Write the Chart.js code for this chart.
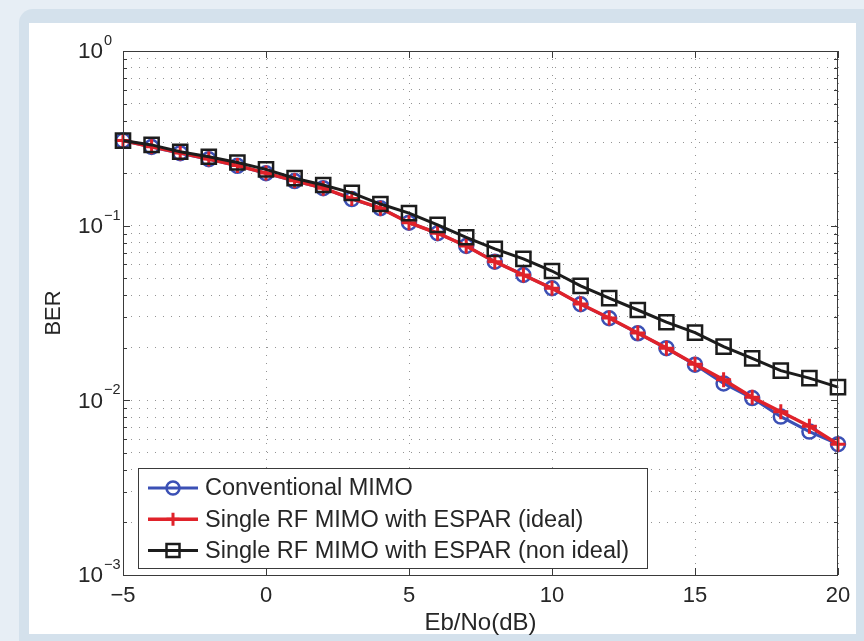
<!DOCTYPE html>
<html>
<head>
<meta charset="utf-8">
<script src="https://cdn.jsdelivr.net/npm/chart.js@4.4.1/dist/chart.umd.min.js"></script>
<style>
  html, body { margin: 0; padding: 0; background: #e7eef5; }
  body { width: 864px; height: 641px; position: relative; overflow: hidden; }
  .frame { position: absolute; left: 19px; top: 9px; width: 870px; height: 660px; background: #d4e1ec; border-radius: 14px 0 0 0; }
  .panel { position: absolute; left: 29px; top: 23px; width: 827px; height: 611px; background: #fff; }
  canvas { position: absolute; left: 0; top: 0; }
</style>
</head>
<body>
<div class="frame"></div>
<div class="panel"></div>
<canvas id="berChart" width="864" height="641"></canvas>
<script>
// Eb/No (dB) sample points
const ebNo = [-5, -4, -3, -2, -1, 0, 1, 2, 3, 4, 5, 6, 7, 8, 9, 10, 11, 12, 13, 14, 15, 16, 17, 18, 19, 20];

// BER readings
const berConventional = [0.307, 0.282, 0.260, 0.240, 0.220, 0.1995, 0.180, 0.164, 0.142, 0.126, 0.104, 0.0905, 0.0765,
  0.0622, 0.0522, 0.0438, 0.0355, 0.0295, 0.0242, 0.0199, 0.0160, 0.0125, 0.0103, 0.00807, 0.00662, 0.00561];
const berEsparIdeal = [0.307, 0.283, 0.261, 0.241, 0.221, 0.200, 0.181, 0.164, 0.143, 0.126, 0.104, 0.0905, 0.0765,
  0.0622, 0.0522, 0.0438, 0.0356, 0.0296, 0.0243, 0.0199, 0.0161, 0.0131, 0.0104, 0.0086, 0.0071, 0.0056];
const berEsparNonIdeal = [0.307, 0.290, 0.265, 0.248, 0.230, 0.210, 0.187, 0.171, 0.154, 0.133, 0.118, 0.101, 0.0858,
  0.0736, 0.0645, 0.055, 0.0452, 0.0385, 0.0329, 0.0280, 0.0244, 0.0203, 0.0174, 0.0148, 0.0134, 0.0119];

const seriesLabels = ['Conventional MIMO', 'Single RF MIMO with ESPAR (ideal)', 'Single RF MIMO with ESPAR (non ideal)'];

// axis ticks
const xTicks = [-5, 0, 5, 10, 15, 20];
const yDecades = [1, 0.1, 0.01, 0.001];
const yExponents = ['0', '\u22121', '\u22122', '\u22123'];

const FONT = "'Liberation Sans', Arial, Helvetica, sans-serif";
const TEXT = '#262626';
const AXIS = '#3a3a3a';
const GRID = 'rgba(0,0,0,0.42)';

function isDecade(v) {
  const l = Math.log10(v);
  return Math.abs(l - Math.round(l)) < 1e-9;
}

function drawMarker(ctx, style, x, y, r) {
  ctx.beginPath();
  if (style === 'circle') {
    ctx.arc(x, y, r, 0, Math.PI * 2);
  } else if (style === 'cross') {
    ctx.moveTo(x - r, y); ctx.lineTo(x + r, y);
    ctx.moveTo(x, y - r); ctx.lineTo(x, y + r);
  } else {
    ctx.rect(x - r, y - r, 2 * r, 2 * r);
  }
  ctx.stroke();
}

const axisDecor = {
  id: 'axisDecor',
  beforeDatasetsDraw(chart) {
    const { ctx, chartArea: a, scales: { x, y } } = chart;
    ctx.save();
    ctx.strokeStyle = AXIS;
    ctx.lineWidth = 1;
    ctx.beginPath();
    x.ticks.forEach(t => {
      const px = Math.round(x.getPixelForValue(t.value)) + 0.5;
      ctx.moveTo(px, a.bottom); ctx.lineTo(px, a.bottom - 7);
      ctx.moveTo(px, a.top); ctx.lineTo(px, a.top + 7);
    });
    y.ticks.forEach(t => {
      const py = Math.round(y.getPixelForValue(t.value)) + 0.5;
      const len = isDecade(t.value) ? 7 : 4;
      ctx.moveTo(a.left, py); ctx.lineTo(a.left + len, py);
      ctx.moveTo(a.right, py); ctx.lineTo(a.right - len, py);
    });
    ctx.stroke();
    ctx.restore();
  },
  afterDraw(chart) {
    const { ctx, chartArea: a, scales: { y } } = chart;
    ctx.save();
    // axes box
    ctx.strokeStyle = AXIS;
    ctx.lineWidth = 1;
    ctx.strokeRect(a.left + 0.5, a.top + 0.5, a.right - a.left - 1, a.bottom - a.top);

    // y tick labels 10^n
    ctx.fillStyle = TEXT;
    yDecades.forEach((v, i) => {
      const py = y.getPixelForValue(v);
      ctx.font = '22.5px ' + FONT;
      ctx.textAlign = 'right';
      ctx.textBaseline = 'middle';
      ctx.fillText('10', a.left - 20, py + 1);
      ctx.font = '14.5px ' + FONT;
      ctx.textAlign = 'left';
      ctx.textBaseline = 'alphabetic';
      ctx.fillText(yExponents[i], a.left - 19, py - 6);
    });

    // legend
    const lx = a.left + 15, ly = a.bottom - 107, lw = 509, lh = 100;
    ctx.fillStyle = '#fff';
    ctx.fillRect(lx, ly, lw, lh);
    ctx.strokeStyle = AXIS;
    ctx.strokeRect(lx + 0.5, ly + 0.5, lw, lh);
    chart.data.datasets.forEach((ds, i) => {
      const cy = ly + 20 + i * 31.3;
      ctx.strokeStyle = ds.borderColor;
      ctx.lineWidth = ds.borderWidth;
      ctx.beginPath();
      ctx.moveTo(lx + 10, cy); ctx.lineTo(lx + 60, cy);
      ctx.stroke();
      ctx.lineWidth = ds.pointBorderWidth;
      drawMarker(ctx, ds.pointStyle, lx + 35, cy, 6.5);
      ctx.fillStyle = TEXT;
      ctx.font = '23.5px ' + FONT;
      ctx.textAlign = 'left';
      ctx.textBaseline = 'middle';
      ctx.fillText(ds.label, lx + 67, cy + 1);
    });
    ctx.restore();
  }
};

function series(values) {
  return ebNo.map((x, i) => ({ x: x, y: values[i] }));
}

new Chart(document.getElementById('berChart'), {
  type: 'line',
  data: {
    datasets: [{
      label: seriesLabels[0],
      data: series(berConventional),
      borderColor: '#3b50b5',
      borderWidth: 3,
      pointStyle: 'circle',
      pointRadius: 7,
      pointBorderWidth: 2.5,
      pointBorderColor: '#3b50b5',
      pointBackgroundColor: 'transparent',
      clip: false,
      order: 3
    }, {
      label: seriesLabels[1],
      data: series(berEsparIdeal),
      borderColor: '#e0222a',
      borderWidth: 3.5,
      pointStyle: 'cross',
      pointRadius: 7.5,
      pointBorderWidth: 3,
      pointBorderColor: '#e0222a',
      pointBackgroundColor: 'transparent',
      clip: false,
      order: 2
    }, {
      label: seriesLabels[2],
      data: series(berEsparNonIdeal),
      borderColor: '#1c1c1c',
      borderWidth: 3,
      pointStyle: 'rect',
      pointRadius: 10,
      pointBorderWidth: 2.5,
      pointBorderColor: '#1c1c1c',
      pointBackgroundColor: 'transparent',
      clip: false,
      order: 1
    }]
  },
  options: {
    responsive: false,
    animation: false,
    layout: { padding: { left: 0, top: 51, right: 26, bottom: 0 } },
    plugins: {
      legend: { display: false },
      tooltip: { enabled: false }
    },
    scales: {
      x: {
        type: 'linear',
        min: -5,
        max: 20,
        afterBuildTicks: s => { s.ticks = xTicks.map(v => ({ value: v })); },
        afterFit: s => { s.height = 66; },
        grid: { color: GRID, lineWidth: 1, drawTicks: false },
        border: { display: false, dash: [1, 7] },
        ticks: {
          padding: 8,
          color: TEXT,
          maxRotation: 0,
          autoSkip: false,
          font: { family: FONT, size: 22 },
          callback: v => String(v).replace('-', '\u2212')
        },
        title: {
          display: true,
          text: 'Eb/No(dB)',
          color: TEXT,
          font: { family: FONT, size: 24 },
          padding: { top: 0, bottom: 3 }
        }
      },
      y: {
        type: 'logarithmic',
        min: 0.001,
        max: 1,
        afterBuildTicks: s => {
          const t = [];
          yDecades.slice(1).forEach(d => {
            for (let k = 1; k <= 9; k++) t.push({ value: k * d });
          });
          t.push({ value: 1 });
          s.ticks = t;
        },
        afterFit: s => { s.width = 123; },
        grid: { color: GRID, lineWidth: 1, drawTicks: false },
        border: { display: false, dash: [1, 7] },
        ticks: { display: false },
        title: {
          display: true,
          text: 'BER',
          color: TEXT,
          font: { family: FONT, size: 22 },
          padding: { top: 41, bottom: 0 }
        }
      }
    }
  },
  plugins: [axisDecor]
});
</script>
</body>
</html>
